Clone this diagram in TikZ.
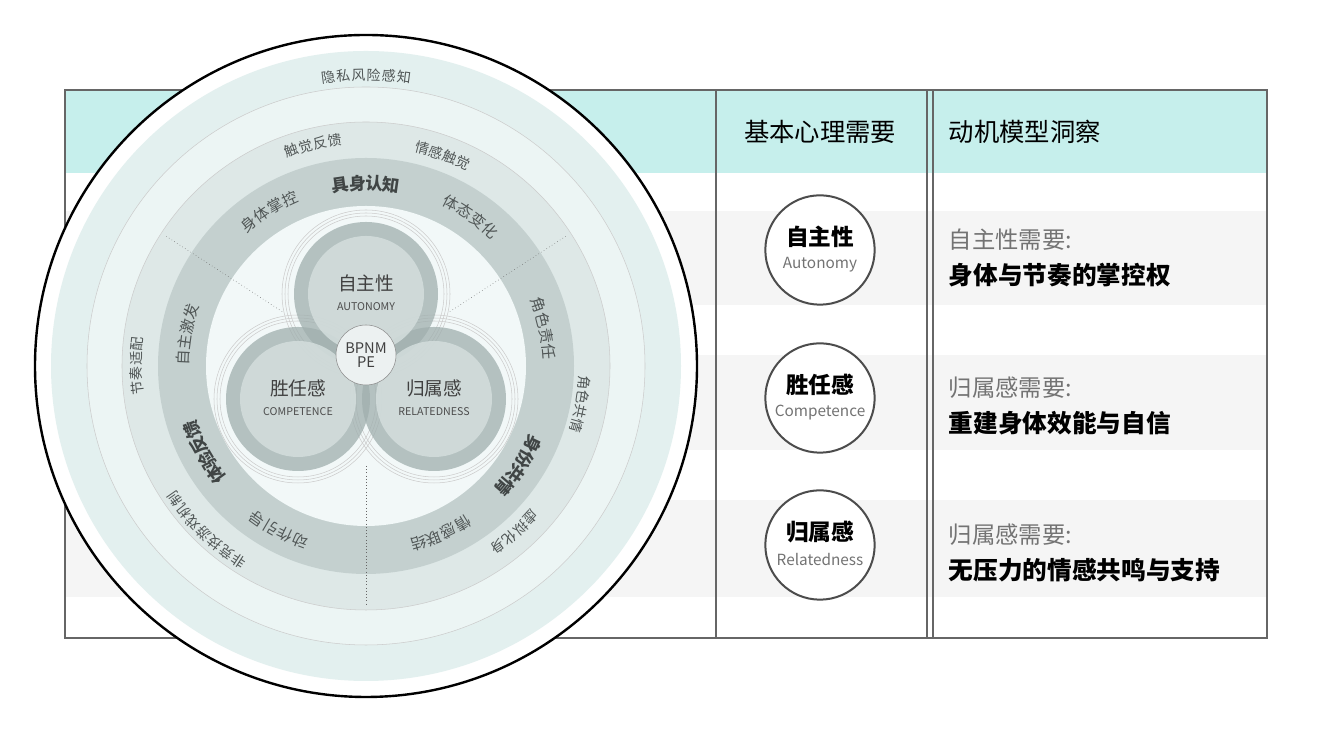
\documentclass[tikz,border=0pt]{standalone}
\usepackage{fontspec}
\setmainfont{Noto Sans CJK SC}
\usetikzlibrary{positioning}
\definecolor{headteal}{HTML}{C6EFEC}
\definecolor{rowgray}{HTML}{F5F5F5}
\definecolor{ringtxt}{HTML}{505656}
\definecolor{halo}{HTML}{E3F0EF}
\definecolor{ringa}{HTML}{ECF5F4}
\definecolor{ringb}{HTML}{DEE8E7}
\definecolor{band}{HTML}{C4D0CF}
\definecolor{inner}{HTML}{F2F8F8}
\definecolor{needring}{HTML}{A0AFAE}
\definecolor{disk}{HTML}{D4DEDD}
\definecolor{coref}{HTML}{ECF1F1}
\tikzset{
  chr/.style={inner sep=0pt,text=ringtxt,font=\fontsize{#1}{#1}\selectfont},
  chrb/.style={inner sep=0pt,text=ringtxt!80!black,font=\fontsize{#1}{#1}\selectfont\bfseries},
  need/.style={draw=black!70,line width=1.5pt,circle,minimum size=82pt,fill=white},
  tline/.style={draw=black!60,line width=0.8pt},
}
% chars along an arc, clockwise: radius, start angle, step, style, chars
\newcommand\arctxt[5]{%
  \foreach \ch [count=\i] in {#5}{%
    \node[#4,rotate={#2-(\i-1)*#3-90}] at ({#2-(\i-1)*#3}:#1) {\ch};}}
\begin{document}
\begin{tikzpicture}[x=0.75pt,y=0.75pt]
\useasboundingbox (0,0) rectangle (1340,730);
% table
\fill[headteal] (65,557) rectangle (1267,640);
\fill[rowgray] (65,425) rectangle (1267,519);
\fill[rowgray] (65,280) rectangle (1267,375);
\fill[rowgray] (65,133) rectangle (1267,230);
\draw[tline] (65,92) rectangle (1267,640);
\foreach \xx in {716,927,933} \draw[tline] (\xx,92) -- (\xx,640);
\node[font=\fontsize{19}{19}\selectfont] (h1) at (820,598) {基本心理需要};
\node[font=\fontsize{19}{19}\selectfont,anchor=west] (h2) at (944,598) {动机模型洞察};
% need circles
\node[need] (aut) at (820,480) {};
\node[need] (com) at (820,332) {};
\node[need] (rel) at (820,185) {};
\foreach \n/\zh/\en in {aut/自主性/Autonomy,com/胜任感/Competence,rel/归属感/Relatedness}{
  \node[font=\fontsize{17}{17}\selectfont\bfseries] at ([yshift=10]\n.center) {\zh};
  \node[font=\fontsize{11.5}{11.5}\selectfont,text=black!55] at ([yshift=-11]\n.center) {\en};
}
\node[anchor=west,text=black!55,font=\fontsize{17.5}{17.5}\selectfont] (q1) at (944,490) {自主性需要:};
\node[anchor=west,font=\fontsize{18.5}{18.5}\selectfont\bfseries] (a1) at (944,455) {身体与节奏的掌控权};
\node[anchor=west,text=black!55,font=\fontsize{17.5}{17.5}\selectfont] (q2) at (944,342) {归属感需要:};
\node[anchor=west,font=\fontsize{18.5}{18.5}\selectfont\bfseries] (a2) at (944,307) {重建身体效能与自信};
\node[anchor=west,text=black!55,font=\fontsize{17.5}{17.5}\selectfont] (q3) at (944,195) {归属感需要:};
\node[anchor=west,font=\fontsize{18.5}{18.5}\selectfont\bfseries] (a3) at (944,160) {无压力的情感共鸣与支持};
% wheel
\begin{scope}[shift={(366,364)}]
  \draw[fill=white,line width=1.8pt] (0,0) circle (331);
  \fill[halo] (0,0) circle (315);
  \draw[black!20,fill=ringa] (0,0) circle (279);
  \draw[black!20,fill=ringb] (0,0) circle (244);
  \fill[band] (0,0) circle (208);
  \fill[inner] (0,0) circle (160);
  % dotted dividers
  \foreach \a in {147,33,270} \draw[dotted,black!60] (\a:100) -- (\a:238);
  % outer ring texts
  \arctxt{291}{97.5}{3.0}{chr=10.5}{隐,私,风,险,感,知}
  \arctxt{228}{109}{3.7}{chr=10.5}{触,觉,反,馈}
  \arctxt{225}{75.5}{3.7}{chr=10.5}{情,感,触,觉}
  \arctxt{230}{185.5}{3.7}{chr=10.5}{节,奏,适,配}
  \arctxt{219}{-4.5}{3.8}{chr=10.5}{角,色,共,情}
  \arctxt{233}{237}{3.7}{chr=10.5}{非,竞,技,游,戏,机,制}
  \arctxt{224}{-42.5}{3.8}{chr=10.5}{虚,拟,化,身}
  % band texts
  \arctxt{183}{98}{5.3}{chrb=13}{具,身,认,知}
  \arctxt{184}{129.5}{5.0}{chr=11.5}{身,体,掌,控}
  \arctxt{184}{62.5}{5.0}{chr=11.5}{体,态,变,化}
  \arctxt{183}{177.5}{5.0}{chr=11.5}{自,主,激,发}
  \arctxt{183}{19.5}{5.0}{chr=11.5}{角,色,责,任}
  \arctxt{185}{216}{5.3}{chrb=13}{体,验,反,馈}
  \arctxt{184}{-25}{5.3}{chrb=13}{身,份,共,情}
  \arctxt{187}{249.5}{5.0}{chr=11.5}{动,作,引,导}
  \arctxt{185}{-58.5}{5.0}{chr=11.5}{情,感,联,结}
  % three needs
  \coordinate (ca) at (0,72);
  \coordinate (cc) at (-68,-33);
  \coordinate (cr) at (68,-33);
  \foreach \n in {ca,cc,cr}
    \foreach \r in {78,81,84} \draw[black!20,line width=0.4pt] (\n) circle (\r);
  \foreach \n in {ca,cc,cr}{
    \fill[needring,opacity=0.75] (\n) circle (72);
  }
  \foreach \n in {ca,cc,cr}{
    \fill[disk,opacity=0.85] (\n) circle (58);
  }
  \node[font=\fontsize{14}{14}\selectfont,text=black!75] (za) at ([yshift=8]ca) {自主性};
  \node[font=\fontsize{8}{8}\selectfont,text=black!70,below=1pt of za] {AUTONOMY};
  \node[font=\fontsize{14}{14}\selectfont,text=black!75] (zc) at ([yshift=8]cc) {胜任感};
  \node[font=\fontsize{8}{8}\selectfont,text=black!70,below=1pt of zc] {COMPETENCE};
  \node[font=\fontsize{14}{14}\selectfont,text=black!75] (zr) at ([yshift=8]cr) {归属感};
  \node[font=\fontsize{8}{8}\selectfont,text=black!70,below=1pt of zr] {RELATEDNESS};
  \node[circle,draw=black!45,fill=coref,minimum size=45pt,inner sep=0pt,
        align=center,font=\fontsize{11}{10}\selectfont,text=black!75] (core) at (0,11) {BPNM\\PE};
\end{scope}
\end{tikzpicture}
\end{document}
